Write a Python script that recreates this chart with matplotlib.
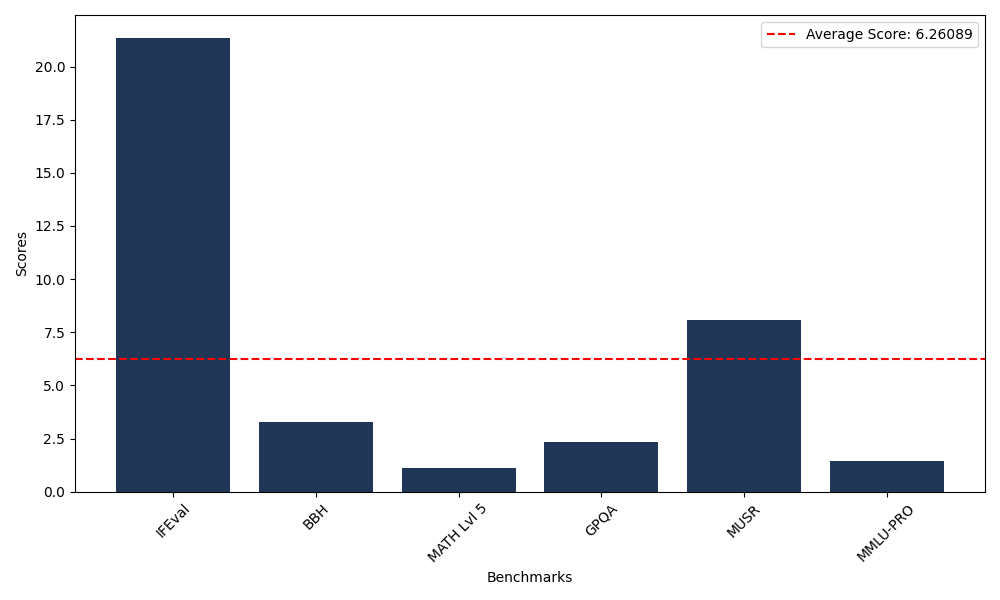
import matplotlib.pyplot as plt

benchmarks = ['IFEval', 'BBH', 'MATH Lvl 5', 'GPQA', 'MUSR', 'MMLU-PRO']
scores = [21.36, 3.28, 1.10, 2.33, 8.07, 1.42]
avg_score = 6.26089

plt.figure(figsize=(10, 6))
plt.bar(benchmarks, scores, color='#1f3657')
plt.axhline(y=avg_score, color='r', linestyle='--', label=f'Average Score: {avg_score}')
plt.xlabel('Benchmarks')
plt.ylabel('Scores')
plt.xticks(rotation=45)
plt.legend()
plt.tight_layout()
plt.savefig('out.png', dpi=100)
